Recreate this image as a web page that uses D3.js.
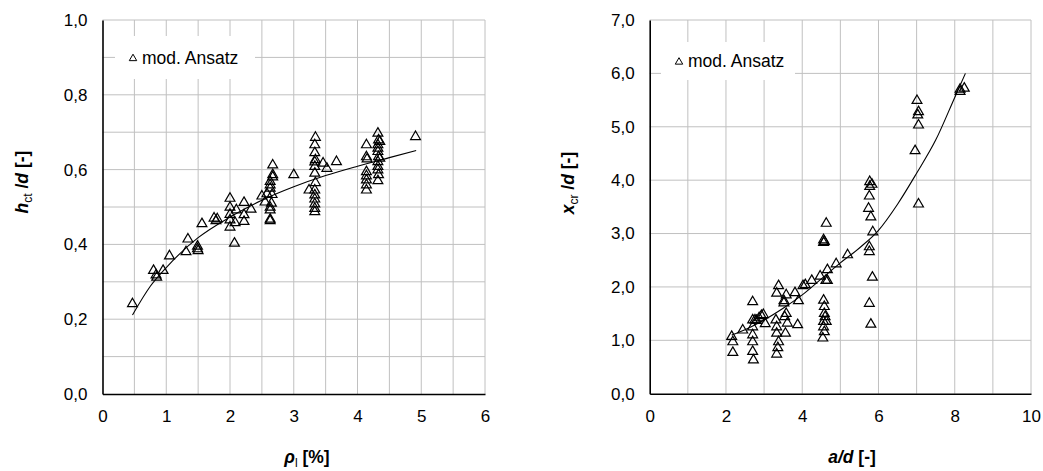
<!DOCTYPE html>
<html><head><meta charset="utf-8">
<script src="https://cdn.jsdelivr.net/npm/d3@7"></script>
<style>body{margin:0;background:#fff}svg{display:block}text{font-family:"Liberation Sans",Arial,sans-serif;fill:#000}</style>
</head><body><svg id="c" width="1043" height="471"></svg>
<script>
// ---------- data ----------
const leftRho = [0.47,0.80,0.84,0.85,0.95,1.05,1.31,1.34,1.49,1.49,1.50,1.56,1.75,1.80,1.78,
 2.00,2.00,2.00,2.00,2.00,2.07,2.10,2.08,2.22,2.22,2.22,2.33,2.50,
 2.67,2.67,2.67,2.63,2.63,2.63,2.58,2.66,2.55,2.65,2.63,2.63,2.63,2.63,
 3.00,3.34,3.33,3.33,3.34,3.33,3.33,3.33,3.34,3.24,3.33,3.33,3.33,3.33,3.33,3.33,
 3.46,3.52,3.67,
 4.14,4.14,4.15,4.14,4.14,4.14,4.14,4.14,
 4.32,4.33,4.35,4.32,4.32,4.32,4.33,4.35,4.32,4.32,4.32,4.33,4.32,
 4.91];
const leftHct = [0.241,0.330,0.318,0.312,0.330,0.369,0.380,0.414,0.395,0.388,0.383,0.455,0.470,0.468,0.463,
 0.523,0.499,0.480,0.465,0.446,0.403,0.492,0.458,0.512,0.479,0.461,0.494,0.529,
 0.612,0.586,0.580,0.568,0.559,0.550,0.535,0.533,0.513,0.510,0.499,0.492,0.467,0.463,
 0.586,0.686,0.666,0.645,0.626,0.620,0.608,0.590,0.565,0.545,0.545,0.532,0.521,0.508,0.496,0.487,
 0.617,0.603,0.621,
 0.666,0.634,0.628,0.594,0.583,0.572,0.559,0.545,
 0.697,0.679,0.675,0.666,0.657,0.648,0.634,0.630,0.621,0.608,0.599,0.586,0.570,
 0.688];
const leftFitX = [0.47,0.75,1.0,1.5,2.0,2.5,3.0,3.5,4.0,4.5,4.92];
const leftFitY = [0.211,0.288,0.338,0.418,0.473,0.518,0.554,0.584,0.609,0.632,0.651];

const rightAd = [2.15,2.18,2.18,2.44,
 2.70,2.70,2.76,2.70,2.70,2.70,2.70,2.72,
 2.80,2.87,2.93,2.98,3.03,
 3.38,3.33,3.58,3.52,3.52,3.81,3.90,
 3.58,3.54,3.31,3.33,3.61,3.33,3.56,
 3.38,3.36,3.33,3.88,
 4.02,4.08,4.25,4.47,4.62,4.66,4.66,4.89,5.19,
 4.63,4.56,4.56,4.58,
 4.56,4.58,4.58,4.60,4.56,4.63,4.56,4.58,4.54,
 5.77,5.83,5.77,5.76,5.74,5.80,5.85,5.76,5.76,5.84,5.76,5.80,
 7.01,7.05,7.03,7.05,6.96,7.05,
 8.14,8.25,8.14];
const rightXcr = [1.07,0.97,0.77,1.19,
 1.72,1.38,1.38,1.25,1.10,0.97,0.79,0.63,
 1.37,1.42,1.46,1.48,1.31,
 2.02,1.88,1.85,1.74,1.70,1.89,1.74,
 1.50,1.44,1.38,1.25,1.32,1.13,1.13,
 0.97,0.86,0.74,1.29,
 2.02,2.04,2.12,2.20,2.12,2.12,2.32,2.43,2.60,
 3.19,2.88,2.83,2.85,
 1.75,1.63,1.50,1.44,1.35,1.35,1.25,1.16,1.04,
 3.97,3.92,3.88,3.70,3.47,3.31,3.03,2.75,2.66,2.18,1.69,1.30,
 5.49,5.28,5.22,5.03,4.55,3.55,
 5.70,5.72,5.66];
const rightFitX = [2.15,2.5,3.0,3.5,4.0,4.5,5.0,5.5,6.0,6.5,7.0,7.5,8.0,8.28];
const rightFitY = [1.10,1.20,1.38,1.60,1.85,2.15,2.45,2.73,3.06,3.55,4.13,4.75,5.55,6.00];

const leftXTicks = [0,1,2,3,4,5,6];
const leftYTicks = [0,0.2,0.4,0.6,0.8,1.0];
const rightXTicks = [0,2,4,6,8,10];
const rightYTicks = [0,1,2,3,4,5,6,7];
const legendLabel = "mod. Ansatz";

// ---------- drawing ----------
const svg = d3.select("#c");
const fmt1 = v => d3.format(".1f")(v).replace(".", ",");

function panel(cfg) {
  const g = svg.append("g");
  const x = d3.scaleLinear().domain(cfg.xDom).range(cfg.xRange);
  const y = d3.scaleLinear().domain(cfg.yDom).range(cfg.yRange);
  // grid
  g.append("g").selectAll("line").data(d3.range(cfg.xDom[0] + cfg.xGrid, cfg.xDom[1] + 1e-9, cfg.xGrid))
    .join("line").attr("x1", d => x(d)).attr("x2", d => x(d)).attr("y1", y(cfg.yDom[0])).attr("y2", y(cfg.yDom[1]))
    .attr("stroke", "#c0c0c0").attr("stroke-width", 1);
  g.append("g").selectAll("line").data(d3.range(cfg.yDom[0] + cfg.yGrid, cfg.yDom[1] + 1e-9, cfg.yGrid))
    .join("line").attr("y1", d => y(d)).attr("y2", d => y(d)).attr("x1", x(cfg.xDom[0])).attr("x2", x(cfg.xDom[1]))
    .attr("stroke", "#c0c0c0").attr("stroke-width", 1);
  // legend box (white, hides grid)
  g.append("rect").attr("x", cfg.leg.x).attr("y", cfg.leg.y).attr("width", cfg.leg.w).attr("height", cfg.leg.h).attr("fill", "#fff");
  g.append("path").attr("d", d3.symbol(d3.symbolTriangle, 24)())
    .attr("transform", `translate(${cfg.leg.x + 18},${cfg.leg.ty + 1})`)
    .attr("fill", "none").attr("stroke", "#000").attr("stroke-width", 1);
  g.append("text").attr("x", cfg.leg.x + 27).attr("y", cfg.leg.ty).attr("dominant-baseline", "central")
    .attr("font-size", 17.5).text(legendLabel);
  // axes
  const xa = d3.axisBottom(x).tickValues(cfg.xTicks).tickSize(0).tickPadding(16).tickFormat(d3.format("d"));
  const ya = d3.axisLeft(y).tickValues(cfg.yTicks).tickSize(0).tickPadding(15).tickFormat(fmt1);
  const gx = g.append("g").attr("transform", `translate(0,${y(cfg.yDom[0])})`).call(xa);
  const gy = g.append("g").attr("transform", `translate(${x(cfg.xDom[0])},0)`).call(ya);
  [gx, gy].forEach(a => {
    a.select(".domain").attr("stroke", "#000").attr("stroke-width", 1.6);
    a.selectAll("text").attr("font-size", 17).attr("font-family", '"Liberation Sans",Arial,sans-serif').attr("fill", "#000");
  });
  // fit curve
  const line = d3.line().x(d => x(d[0])).y(d => y(d[1])).curve(d3.curveMonotoneX);
  g.append("path").datum(d3.zip(cfg.fitX, cfg.fitY)).attr("d", line)
    .attr("fill", "none").attr("stroke", "#000").attr("stroke-width", 1.1);
  // points
  g.append("g").selectAll("path").data(d3.zip(cfg.px, cfg.py)).join("path")
    .attr("d", d3.symbol(d3.symbolTriangle, 42)())
    .attr("transform", d => `translate(${x(d[0])},${y(d[1])})`)
    .attr("fill", "none").attr("stroke", "#000").attr("stroke-width", 1.2);
  // x title
  const xt = g.append("text").attr("x", cfg.xt[0]).attr("y", cfg.xt[1]).attr("text-anchor", "middle")
    .attr("font-size", 17.5).attr("font-weight", "bold");
  cfg.xTitle.forEach(s => {
    const t = xt.append("tspan").text(s.t);
    if (s.i) t.attr("font-style", "italic");
    if (s.sub) t.attr("font-size", 12).attr("dy", 4).attr("font-weight", "normal");
    if (s.up) t.attr("dy", -4);
  });
  // y title
  const yt = g.append("text").attr("transform", `translate(${cfg.yt[0]},${cfg.yt[1]}) rotate(-90)`)
    .attr("x", 0).attr("y", 6).attr("text-anchor", "middle").attr("font-size", 17.5).attr("font-weight", "bold");
  cfg.yTitle.forEach(s => {
    const t = yt.append("tspan").text(s.t);
    if (s.i) t.attr("font-style", "italic");
    if (s.sub) t.attr("font-size", 12).attr("dy", 4).attr("font-weight", "normal");
    if (s.up) t.attr("dy", -4);
  });
}

panel({
  xDom: [0, 6], xRange: [102.5, 485], yDom: [0, 1], yRange: [394, 20],
  xGrid: 0.5, yGrid: 0.1, xTicks: leftXTicks, yTicks: leftYTicks,
  px: leftRho, py: leftHct, fitX: leftFitX, fitY: leftFitY,
  leg: {x: 115, y: 36, w: 140, h: 43, ty: 57.5},
  xt: [307, 463], xTitle: [{t: "ρ", i: true}, {t: "l", sub: true}, {t: " [%]", up: true}],
  yt: [22, 182], yTitle: [{t: "h", i: true}, {t: "ct", sub: true}, {t: " /", up: true}, {t: "d", i: true}, {t: " [-]"}]
});
panel({
  xDom: [0, 10], xRange: [649.7, 1031], yDom: [0, 7], yRange: [393.7, 20],
  xGrid: 1, yGrid: 1, xTicks: rightXTicks, yTicks: rightYTicks,
  px: rightAd, py: rightXcr, fitX: rightFitX, fitY: rightFitY,
  leg: {x: 661, y: 42, w: 134, h: 38, ty: 61},
  xt: [852, 463], xTitle: [{t: "a/d", i: true}, {t: " [-]"}],
  yt: [568, 183], yTitle: [{t: "x", i: true}, {t: "cr", sub: true}, {t: " /", up: true}, {t: "d", i: true}, {t: " [-]"}]
});
</script></body></html>
